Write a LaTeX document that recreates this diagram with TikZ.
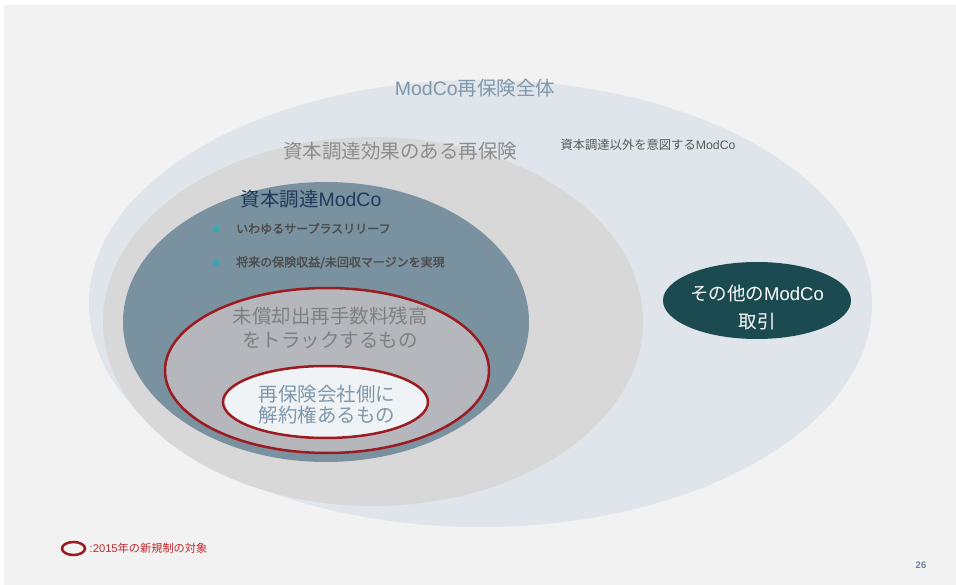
\documentclass[tikz,border=0pt]{standalone}
\usepackage{fontspec}
\setmainfont{Liberation Sans}
\newfontfamily\jp{Noto Sans CJK JP}
\newfontfamily\jpb[FakeBold=2]{Noto Sans CJK JP}
\usetikzlibrary{shapes.geometric}
\definecolor{bgg}{HTML}{F2F2F2}
\definecolor{eA}{HTML}{DFE5EA}
\definecolor{eB}{HTML}{D8D8D8}
\definecolor{eC}{HTML}{7A919F}
\definecolor{eD}{HTML}{B6B7BD}
\definecolor{eE}{HTML}{EFF3F5}
\definecolor{redl}{HTML}{9B1B20}
\definecolor{tealc}{HTML}{1C4A51}
\definecolor{blueg}{HTML}{7F98AA}
\definecolor{grayt}{HTML}{8C8C8C}
\definecolor{grayd}{HTML}{808080}
\definecolor{navy}{HTML}{1F3A5A}
\definecolor{bullt}{HTML}{4D4D4D}
\definecolor{bullsq}{HTML}{3AA8B0}
\definecolor{legred}{HTML}{C0282D}
\definecolor{pagen}{HTML}{6C849A}
\begin{document}
\begin{tikzpicture}[x=1pt,y=-1pt,
  ell/.style={ellipse,inner sep=0pt,outer sep=0pt},
  redring/.style={draw=redl,line width=2.5pt},
  big/.style={font=\fontsize{19.5}{24}\selectfont,align=center,inner sep=0pt},
  bul/.style={font=\fontsize{12}{13}\jpb,text=bullt,anchor=west,inner sep=0pt},
  sq/.style={fill=bullsq,minimum size=5.5pt,inner sep=0pt}]
\useasboundingbox (0,0) rectangle (956,585);
\fill[white] (0,0) rectangle (956,585);
\fill[bgg] (4,5) rectangle (956,585);
% ellipses
\node[ell,fill=eA,minimum width=783pt,minimum height=447pt] (all) at (480.5,303.5) {};
\node[ell,fill=eB,minimum width=540pt,minimum height=369pt] (cap) at (373,321.5) {};
\node[ell,fill=eC,minimum width=406pt,minimum height=280pt] (capm) at (326,322) {};
\node[ell,fill=eD,redring,minimum width=324pt,minimum height=165pt] (track) at (327,370.5) {};
\node[ell,fill=eE,redring,minimum width=205pt,minimum height=72pt] (cancel) at (325.5,402) {};
\node[ell,fill=tealc,minimum width=188pt,minimum height=77pt] (other) at (757,300.5) {};
% texts
\node[big,text=blueg] (tall) at (475,88) {ModCo{\jp 再保険全体}};
\node[big,text=grayt] (tcap) at (400,151) {\jp 資本調達効果のある再保険};
\node[font=\fontsize{12.3}{14}\selectfont,text=black!65,inner sep=0pt] (tnon) at (648,145) {{\jp 資本調達以外を意図する}ModCo};
\node[big,text=navy] (tcapm) at (311,199) {{\jp 資本調達}ModCo};
\node[sq] (b1) at (216,229) {};
\node[sq] (b2) at (216,263) {};
\node[bul] (t1) at (236,228.5) {いわゆるサープラスリリーフ};
\node[bul] (t2) at (236,262.5) {将来の保険収益/未回収マージンを実現};
\node[big,text=grayd,font=\fontsize{19.5}{23.5}\jp] (ttrack) at (330,328) {未償却出再手数料残高\\をトラックするもの};
\node[big,text=blueg,font=\fontsize{19.5}{21}\jp] (tcancel) at (327,405) {再保険会社側に\\解約権あるもの};
\node[big,text=white,font=\fontsize{18.5}{28}\selectfont] (tother) at (757,307) {{\jp その他の}ModCo\\{\jp 取引}};
% legend
\node[ell,draw=redl,line width=2.5pt,minimum width=23pt,minimum height=13pt] (leg) at (73.5,548.5) {};
\node[font=\fontsize{11.2}{13}\selectfont,text=legred,anchor=west,inner sep=0pt] (tleg) at (89.5,548.5) {:2015{\jp 年の新規制の対象}};
\node[font=\fontsize{9.5}{11}\bfseries,text=pagen,inner sep=0pt] (pg) at (921,565) {26};
\end{tikzpicture}
\end{document}
